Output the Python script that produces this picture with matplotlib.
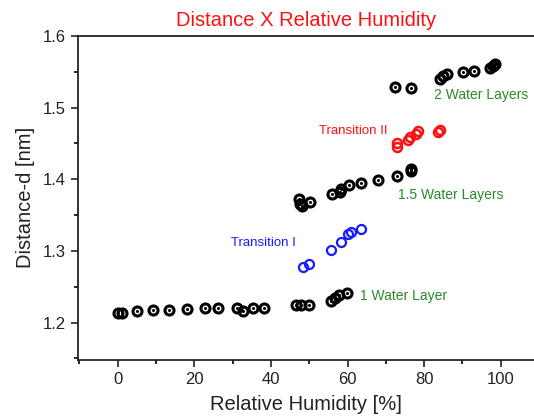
import matplotlib
matplotlib.use("Agg")
import matplotlib.pyplot as plt
from matplotlib.ticker import MultipleLocator

plt.rcParams['font.family'] = ['Liberation Sans', 'DejaVu Sans']

# 1 water layer (black)
rh1 = [0, 1.2, 5, 9.1, 13.4, 18.2, 22.8, 26.3, 31.2, 32.8, 35.4, 38.2,
       46.6, 47.9, 49.9, 55.6, 56.7, 57.9, 59.8]
d1 = [1.2135, 1.214, 1.2163, 1.2177, 1.218, 1.219, 1.2198, 1.2205, 1.220, 1.2157, 1.2198, 1.2205,
      1.2247, 1.2247, 1.2252, 1.2307, 1.234, 1.2387, 1.2419]

# transition I (blue)
rhT1 = [48.3, 50.0, 55.7, 58.3, 60.2, 60.8, 63.5]
dT1 = [1.2781, 1.2815, 1.3015, 1.3122, 1.3238, 1.3261, 1.3307]

# 1.5 water layers (black)
rh15 = [47.2, 47.6, 48.0, 50.2, 55.9, 58.0, 58.4, 60.4, 63.5, 68.0, 72.8, 76.6, 76.6]
d15 = [1.3722, 1.366, 1.3628, 1.3688, 1.3792, 1.3828, 1.3861, 1.3921, 1.3945, 1.3991, 1.4051, 1.4117, 1.4145]

# transition II (red)
rhT2 = [72.8, 72.8, 75.8, 76.3, 77.8, 78.3, 83.5, 84.2]
dT2 = [1.445, 1.451, 1.455, 1.459, 1.463, 1.467, 1.466, 1.469]

# 2 water layers (black)
rh2 = [72.4, 76.5, 84.2, 85.0, 85.9, 90.2, 93.1, 97.2, 98.1, 98.5]
d2 = [1.5284, 1.5279, 1.5396, 1.5442, 1.5466, 1.5494, 1.5512, 1.555, 1.5582, 1.561]

fig = plt.figure(figsize=(5.34, 4.18), dpi=100)
ax = fig.add_axes([0.146, 0.139, 0.854, 0.775])

for x, y in [(rh1, d1), (rh15, d15), (rh2, d2)]:
    ax.plot(x, y, color='black', marker='o', linestyle='none', markersize=6.5,
            markerfacecolor='none', markeredgewidth=2.2)
    ax.plot(x, y, color='black', marker='o', linestyle='none', markersize=1.2)
ax.plot(rhT1, dT1, color='#1a1aff', marker='o', linestyle='none', markersize=6.5,
        markerfacecolor='none', markeredgewidth=1.6)
ax.plot(rhT2, dT2, color='#ff1010', marker='o', linestyle='none', markersize=6.5,
        markerfacecolor='none', markeredgewidth=1.8)

ax.text(63.3, 1.237, "1 Water Layer", color='#2a8a2a', fontsize=10, va='center')
ax.text(73.2, 1.378, "1.5 Water Layers", color='#2a8a2a', fontsize=10, va='center')
ax.text(82.6, 1.5175, "2 Water Layers", color='#2a8a2a', fontsize=10, va='center')
ax.text(52.6, 1.4667, "Transition II", color='#ff1010', fontsize=9.5, va='center')
ax.text(29.6, 1.311, "Transition I", color='#1a1aff', fontsize=9.5, va='center')

ax.set_xlim(-10.4, 108.7)
ax.set_ylim(1.148, 1.6)
ax.xaxis.set_major_locator(MultipleLocator(20))
ax.xaxis.set_minor_locator(MultipleLocator(10))
ax.yaxis.set_minor_locator(MultipleLocator(0.05))
ax.set_yticks([1.2, 1.3, 1.4, 1.5, 1.6])
ax.set_yticklabels(["1.2", "1.3", "1.4", "1.5", "1.6"])
ax.tick_params(which='major', direction='out', length=5, width=1.2, labelsize=12, colors='#222222')
ax.tick_params(which='minor', direction='out', length=3, width=1.2)
ax.spines['right'].set_visible(False)
for s in ['left', 'bottom', 'top']:
    ax.spines[s].set_linewidth(1.3)
    ax.spines[s].set_color('#222222')

ax.set_xlabel("Relative Humidity [%]", fontsize=14.5, color='#222222', labelpad=6)
ax.set_ylabel("Distance-d [nm]", fontsize=14.5, color='#222222', labelpad=6)
ax.set_title("Distance X Relative Humidity", color='#ff1010', fontsize=14.5, pad=7)

fig.savefig("out.png", dpi=100)
